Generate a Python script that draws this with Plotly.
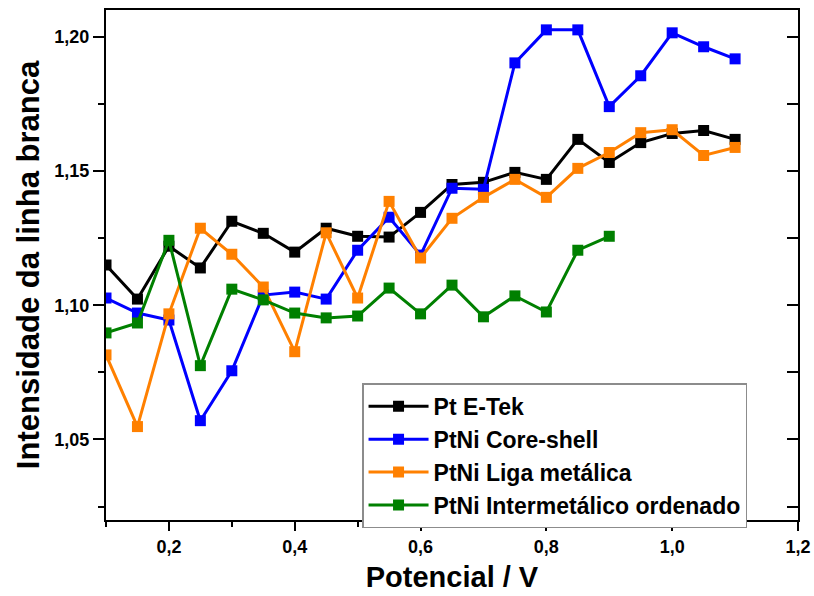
import plotly.graph_objects as go

x_all = [0.10, 0.15, 0.20, 0.25, 0.30, 0.35, 0.40, 0.45, 0.50, 0.55, 0.60,
         0.65, 0.70, 0.75, 0.80, 0.85, 0.90, 0.95, 1.00, 1.05, 1.10]
x_green = x_all[:17]

pt_etek = [1.1150, 1.1023, 1.1220, 1.1139, 1.1313, 1.1268, 1.1198, 1.1287, 1.1257, 1.1254, 1.1346,
           1.1450, 1.1458, 1.1495, 1.1469, 1.1618, 1.1532, 1.1606, 1.1640, 1.1651, 1.1618]
ptni_core = [1.1027, 1.0971, 1.0945, 1.0570, 1.0756, 1.1038, 1.1049, 1.1023, 1.1205, 1.1328, 1.1187,
             1.1436, 1.1432, 1.1903, 1.2026, 1.2026, 1.1740, 1.1855, 1.2015, 1.1963, 1.1918]
ptni_liga = [1.0815, 1.0548, 1.0968, 1.1287, 1.1190, 1.1068, 1.0827, 1.1270, 1.1027, 1.1387, 1.1176,
             1.1324, 1.1402, 1.1469, 1.1402, 1.1510, 1.1569, 1.1643, 1.1654, 1.1558, 1.1588]
ptni_inter = [1.0897, 1.0934, 1.1242, 1.0775, 1.1060, 1.1020, 1.0971, 1.0953, 1.0960, 1.1064, 1.0968,
              1.1075, 1.0957, 1.1035, 1.0975, 1.1205, 1.1257]

series = [
    ("Pt E-Tek", x_all, pt_etek, "#000000"),
    ("PtNi Core-shell", x_all, ptni_core, "#0000FF"),
    ("PtNi Liga metálica", x_all, ptni_liga, "#FF8000"),
    ("PtNi Intermetálico ordenado", x_green, ptni_inter, "#008000"),
]

FONT = "Liberation Sans, Arial, Helvetica, sans-serif"

fig = go.Figure()
for name, xs, ys, col in series:
    fig.add_trace(go.Scatter(
        x=xs, y=ys, name=name, mode="lines+markers",
        line=dict(color=col, width=3),
        marker=dict(symbol="square", size=11, color=col),
    ))

# dummy trace for right axis inward ticks
fig.add_trace(go.Scatter(x=[None], y=[None], yaxis="y2", showlegend=False, hoverinfo="skip"))

yrange = [1.02, 1.21]
fig.update_layout(
    width=814, height=596,
    margin=dict(l=106, r=16, t=10, b=76),
    plot_bgcolor="white", paper_bgcolor="white",
    separators=",.",
    font=dict(family=FONT, color="black"),
    showlegend=True,
    legend=dict(
        x=0.37, y=0.268, xanchor="left", yanchor="top",
        bordercolor="#8c8c8c", borderwidth=1.5, bgcolor="white",
        font=dict(family=FONT, size=23, color="black", weight="bold"),
        itemwidth=60, tracegroupgap=0,
    ),
    xaxis=dict(
        range=[0.1, 1.2], tick0=0, dtick=0.2, tickformat=".1f", automargin=False,
        showline=True, linecolor="black", linewidth=2, mirror=True,
        ticks="outside", ticklen=9, tickwidth=2, tickcolor="black",
        minor=dict(dtick=0.1, tick0=0, ticks="outside", ticklen=5, tickwidth=2, tickcolor="black"),
        showgrid=False, zeroline=False,
        tickfont=dict(family=FONT, size=18, color="black", weight="bold"),
        title=dict(text="Potencial / V", standoff=11,
                   font=dict(family=FONT, size=29, color="black", weight="bold")),
    ),
    yaxis=dict(
        range=yrange, tick0=1.0, dtick=0.05, tickformat=".2f", automargin=False,
        showline=True, linecolor="black", linewidth=2, mirror=True,
        ticks="outside", ticklen=11, tickwidth=2, tickcolor="black",
        minor=dict(dtick=0.025, tick0=1.0, ticks="outside", ticklen=6, tickwidth=2, tickcolor="black"),
        showgrid=False, zeroline=False,
        tickfont=dict(family=FONT, size=18, color="black", weight="bold"),
        title=dict(text="Intensidade da linha branca", standoff=6,
                   font=dict(family=FONT, size=31, color="black", weight="bold")),
    ),
    yaxis2=dict(
        range=yrange, overlaying="y", side="right", tick0=1.0, dtick=0.025, automargin=False,
        ticks="inside", ticklen=11, tickwidth=2, tickcolor="black",
        showticklabels=False, showgrid=False, zeroline=False, showline=False,
    ),
)

fig.write_html("out.html")
